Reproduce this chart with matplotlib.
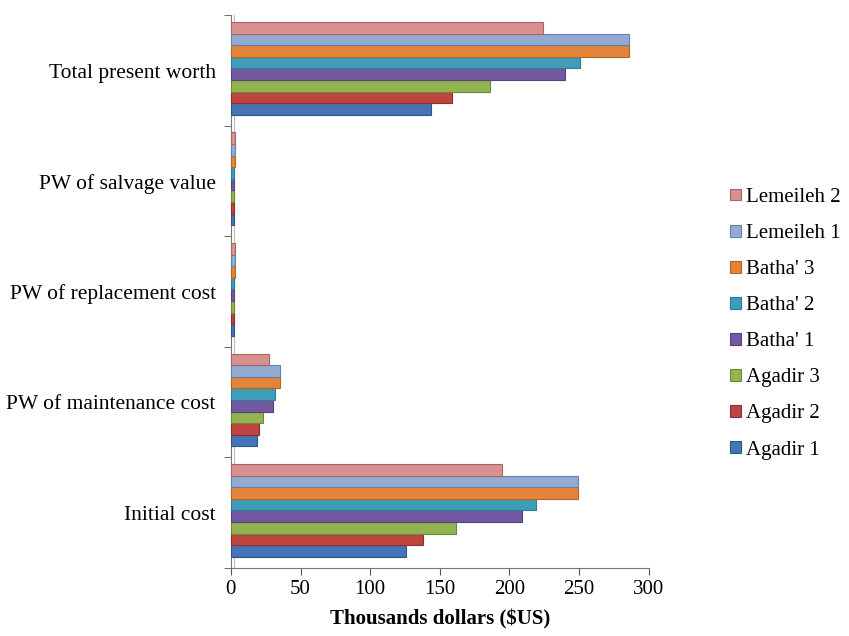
import numpy as np
import matplotlib
matplotlib.use("Agg")
from matplotlib import pyplot as plt

# categories from bottom to top
categories = ["Initial cost", "PW of maintenance cost", "PW of replacement cost",
              "PW of salvage value", "Total present worth"]

series = ["Agadir 1", "Agadir 2", "Agadir 3", "Batha' 1", "Batha' 2",
          "Batha' 3", "Lemeileh 1", "Lemeileh 2"]

# values in thousands of dollars, one list per series (same order as categories)
agadir1 = [126, 19, 2, 2, 144]
agadir2 = [138, 20, 2, 2, 159]
agadir3 = [162, 23, 2, 2, 186]
batha1 = [209, 30, 2, 2, 240]
batha2 = [219, 32, 2, 2, 251]
batha3 = [249, 35, 3, 3, 286]
lemeileh1 = [249, 35, 3, 3, 286]
lemeileh2 = [195, 27, 3, 3, 224]

values = [agadir1, agadir2, agadir3, batha1, batha2, batha3, lemeileh1, lemeileh2]
colors = ["#4674B4", "#C0443F", "#93B350", "#7258A0", "#3F9DB8",
          "#E3843A", "#93AAD2", "#D79290"]
edges = ["#2c5687", "#8c2f2c", "#6c8a33", "#57417a", "#2a7d94",
         "#b8621c", "#5f82ab", "#a86563"]

plt.rcParams['font.family'] = ['Liberation Serif', 'DejaVu Serif']

fig = plt.figure(figsize=(8.49, 6.36), dpi=100)
ax = fig.add_axes([0.272, 0.107, 0.492, 0.869])

y = np.arange(len(categories))
h = 0.105
for i, (vals, c, ec) in enumerate(zip(values, colors, edges)):
    pos = y - 0.42 + h / 2 + i * h + 0.02
    ax.barh(pos, vals, height=h, color=c, edgecolor=ec, linewidth=0.8,
            label=series[i], zorder=3)

ax.set_xlim(0, 300)
ax.set_ylim(-0.5, len(categories) - 0.5)
ax.set_xticks(np.arange(0, 301, 50))
ax.set_yticks(y)
ax.set_yticklabels(categories)
ax.set_yticks(np.arange(-0.5, len(categories), 1), minor=True)
ax.tick_params(axis='y', which='major', length=0, labelsize=15.5, pad=11)
ax.tick_params(axis='y', which='minor', length=5, color='#555555')
ax.tick_params(axis='x', length=5, color='#555555', labelsize=15, pad=4)

for s in ['top', 'right']:
    ax.spines[s].set_visible(False)
ax.spines['left'].set_color('#777777')
ax.spines['bottom'].set_color('#777777')
# back wall line of the 3d frame
ax.axvline(2.3, color='#bbbbbb', lw=0.8, zorder=1)

ax.set_xlabel("Thousands dollars ($US)", fontsize=15, fontweight='bold', labelpad=7)

handles, labels = ax.get_legend_handles_labels()
fig.legend(handles[::-1], labels[::-1], loc='center left',
           bbox_to_anchor=(0.838, 0.491), frameon=False, fontsize=15,
           handlelength=0.5, handleheight=0.5, handletextpad=0.25,
           labelspacing=0.82)

fig.savefig("out.png", dpi=100)
